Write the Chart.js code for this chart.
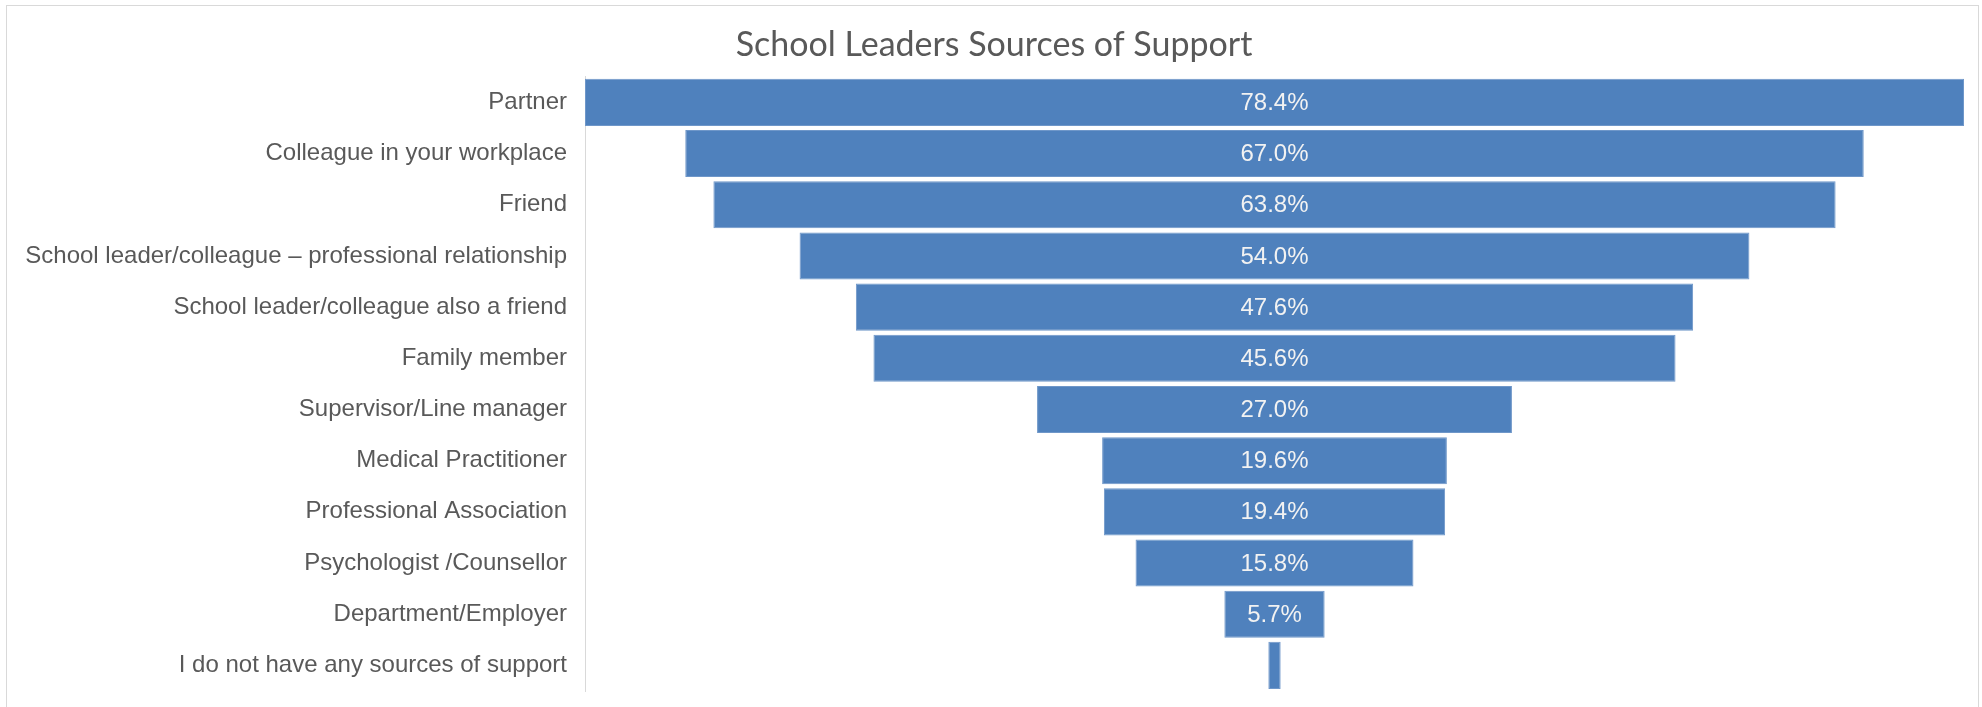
<!DOCTYPE html>
<html>
<head>
<meta charset="utf-8">
<title>School Leaders Sources of Support</title>
<script src="https://cdn.jsdelivr.net/npm/chart.js@4/dist/chart.umd.min.js"></script>
<style>
  html, body { margin:0; padding:0; background:#fff; overflow:hidden; }
  #frame { position:absolute; left:6px; top:5px; width:1973px; height:740px; border:1px solid #d9d9d9; box-sizing:border-box; }
  #wrap { position:absolute; left:0; top:0; width:1982px; height:707px; }
</style>
</head>
<body>
<div id="frame"></div>
<div id="wrap"><canvas id="funnel"></canvas></div>
<script>
// -- dati del grafico --
const chartTitle = "School Leaders Sources of Support";
const sources = [
  "Partner",
  "Colleague in your workplace",
  "Friend",
  "School leader/colleague \u2013 professional relationship",
  "School leader/colleague also a friend",
  "Family member",
  "Supervisor/Line manager",
  "Medical Practitioner",
  "Professional Association",
  "Psychologist /Counsellor",
  "Department/Employer",
  "I do not have any sources of support"
];
const percents = [78.4, 67.0, 63.8, 54.0, 47.6, 45.6, 27.0, 19.6, 19.4, 15.8, 5.7, 0.7];

// -- funnel: barre fluttuanti centrate sul valore massimo --
const peak = Math.max(...percents);
const spans = percents.map(v => [(peak - v) / 2, (peak + v) / 2]);

// etichette percentuali dentro le barre (solo se ci stanno)
const barLabels = {
  id: "barLabels",
  afterDatasetsDraw(chart) {
    const ctx = chart.ctx;
    const meta = chart.getDatasetMeta(0);
    ctx.save();
    ctx.font = "24px 'Liberation Sans', Arial, sans-serif";
    ctx.fillStyle = "#f2f2f2";
    ctx.textAlign = "center";
    ctx.textBaseline = "middle";
    meta.data.forEach((bar, i) => {
      const txt = percents[i].toFixed(1) + "%";
      const w = Math.abs(bar.x - bar.base);
      if (ctx.measureText(txt).width + 8 > w) return;
      ctx.fillText(txt, (bar.x + bar.base) / 2, bar.y + 1);
    });
    ctx.restore();
  }
};

new Chart(document.getElementById("funnel"), {
  type: "bar",
  data: {
    labels: sources,
    datasets: [{
      data: spans,
      backgroundColor: "#4f81bd",
      borderColor: "#6f97c9",
      borderWidth: 1,
      borderSkipped: false,
      barPercentage: 0.92,
      categoryPercentage: 1.0
    }]
  },
  options: {
    indexAxis: "y",
    responsive: true,
    maintainAspectRatio: false,
    animation: false,
    layout: { padding: { left: 24, right: 18, top: 0, bottom: 16 } },
    plugins: {
      legend: { display: false },
      tooltip: { enabled: false },
      title: {
        display: true,
        text: chartTitle,
        color: "#595959",
        font: { family: "Lato, 'Open Sans', sans-serif", size: 34, weight: "normal" },
        padding: { top: 25, bottom: 11 }
      }
    },
    scales: {
      x: { display: false, min: 0, max: peak },
      y: {
        grid: { display: false, drawTicks: false },
        border: { display: true, color: "#d9d9d9", width: 1 },
        ticks: {
          color: "#595959",
          padding: 18,
          autoSkip: false,
          font: { family: "'Liberation Sans', Arial, sans-serif", size: 24 }
        },
        afterFit(scale) {
          scale.width = 561;
          // niente margine extra sopra/sotto per le etichette
          scale.paddingTop = 0;
          scale.paddingBottom = 0;
        }
      }
    }
  },
  plugins: [barLabels]
});
</script>
</body>
</html>
